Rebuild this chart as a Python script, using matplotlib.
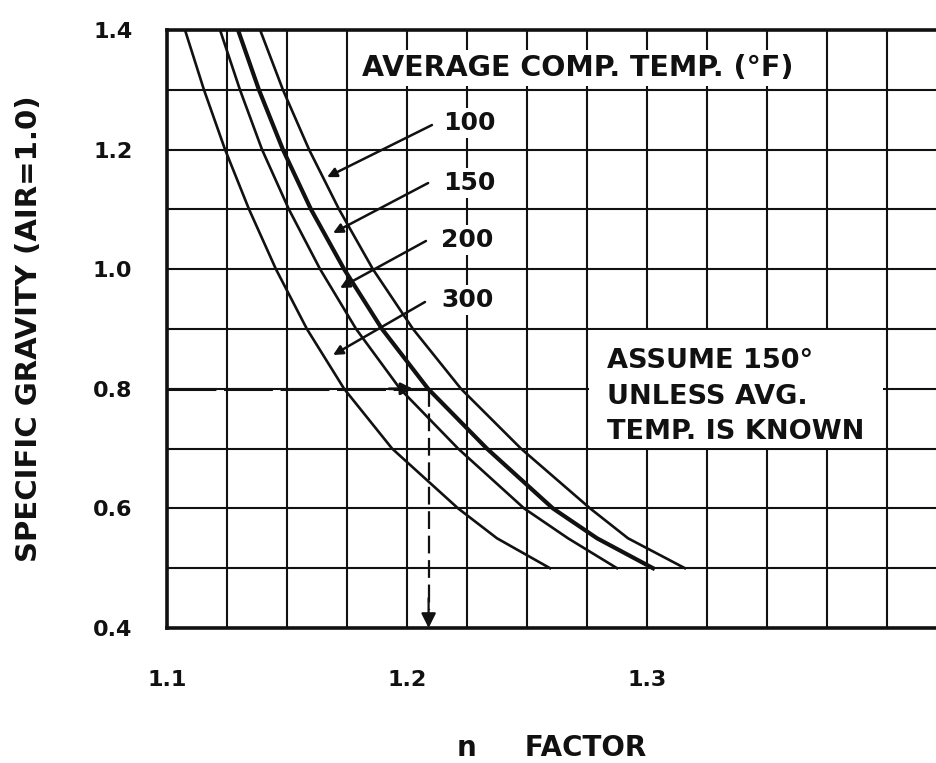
import numpy as np
import matplotlib
matplotlib.use("Agg")
import matplotlib.pyplot as plt
from matplotlib.patches import Rectangle

# ---------------- data ----------------
sg_levels = [1.4, 1.3, 1.2, 1.1, 1.0, 0.9, 0.8, 0.7, 0.6, 0.55, 0.5]
n_100 = [1.1388, 1.1483, 1.1592, 1.1717, 1.1858, 1.2025, 1.2225, 1.2475, 1.2763, 1.2921, 1.3158]
n_150 = [1.1296, 1.1383, 1.1483, 1.1600, 1.1738, 1.1896, 1.2088, 1.2333, 1.2608, 1.2792, 1.3025]
n_200 = [1.1221, 1.1304, 1.1396, 1.1508, 1.1638, 1.1788, 1.1971, 1.2213, 1.2488, 1.2671, 1.2875]
n_300 = [1.1075, 1.1154, 1.1242, 1.1342, 1.1454, 1.1583, 1.1738, 1.1938, 1.2213, 1.2375, 1.2596]

temp_labels = ["100", "150", "200", "300"]
label_x = [1.215, 1.215, 1.214, 1.2145]
label_y = [1.2445, 1.1441, 1.0488, 0.9485]
arrow_start_x = [1.2104, 1.2088, 1.2079, 1.2075]
arrow_start_y = [1.2411, 1.1441, 1.0472, 0.9452]
arrow_tip_x = [1.1667, 1.1692, 1.1721, 1.1692]
arrow_tip_y = [1.154, 1.0605, 0.9686, 0.8565]

x_ticks = [1.1, 1.2, 1.3]
x_tick_labels = ["1.1", "1.2", "1.3"]
y_ticks = [0.4, 0.6, 0.8, 1.0, 1.2, 1.4]
y_tick_labels = ["0.4", "0.6", "0.8", "1.0", "1.2", "1.4"]

example_sg = 0.8
example_n = 1.209
example_head_n = 1.2025

FONT = "DejaVu Sans"
plt.rcParams["font.family"] = [FONT]
INK = "#111111"

fig = plt.figure(figsize=(9.37, 7.63), dpi=100)
ax = fig.add_axes([167 / 937, 1 - 628 / 763, 1 - 167 / 937, (628 - 30) / 763])
ax.set_xlim(1.1, 1.1 + 770 / 2400)
ax.set_ylim(0.4, 1.4)

# grid
ax.set_xticks(x_ticks)
ax.set_xticklabels(x_tick_labels)
ax.set_xticks(np.arange(1.1, 1.42, 0.025), minor=True)
ax.set_yticks(y_ticks)
ax.set_yticklabels(y_tick_labels)
ax.set_yticks(np.arange(0.4, 1.41, 0.1), minor=True)
ax.set_axisbelow(True)
ax.grid(which="both", color=INK, lw=1.5)
ax.tick_params(which="both", length=0)
ax.tick_params(axis="y", pad=25, labelsize=16, labelcolor=INK)
ax.tick_params(axis="x", pad=30, labelsize=16, labelcolor=INK)
for lab in ax.get_xticklabels() + ax.get_yticklabels():
    lab.set_fontweight("bold")

for s in ["left", "top", "bottom"]:
    ax.spines[s].set_linewidth(2.6)
    ax.spines[s].set_color(INK)
ax.spines["right"].set_visible(False)

# curves
ax.plot(n_300, sg_levels, color=INK, lw=1.9, zorder=3, solid_joinstyle="round")
ax.plot(n_200, sg_levels, color=INK, lw=1.9, zorder=3, solid_joinstyle="round")
ax.plot(n_150, sg_levels, color=INK, lw=3.0, zorder=3, solid_joinstyle="round")
ax.plot(n_100, sg_levels, color=INK, lw=1.9, zorder=3, solid_joinstyle="round")

# temperature labels with arrows
for t, lx, ly, sx, sy, tx, ty in zip(temp_labels, label_x, label_y,
                                     arrow_start_x, arrow_start_y,
                                     arrow_tip_x, arrow_tip_y):
    ax.annotate("", xy=(tx, ty), xytext=(sx, sy),
                arrowprops=dict(arrowstyle="-|>", color=INK, lw=1.8,
                                mutation_scale=14, shrinkA=0, shrinkB=0),
                zorder=4)
    ax.text(lx, ly, t, ha="left", va="center", fontsize=18, fontweight="bold",
            color=INK, zorder=4,
            bbox=dict(facecolor="white", edgecolor="none", pad=2))

ax.text(1.18125, 1.3365, "AVERAGE COMP. TEMP. (°F)", ha="left", va="center",
        fontsize=20.5, fontweight="bold", color=INK, zorder=4,
        bbox=dict(facecolor="white", edgecolor="none", pad=3))

# assumption box
ax.add_patch(Rectangle((1.2757, 0.7015), 0.1228, 0.197, facecolor="white",
                       edgecolor="none", zorder=2))
ax.text(1.2833, 0.8465, "ASSUME 150°", ha="left", va="center", fontsize=19.5,
        fontweight="bold", color=INK, zorder=4)
ax.text(1.2833, 0.7863, "UNLESS AVG.", ha="left", va="center", fontsize=19.5,
        fontweight="bold", color=INK, zorder=4)
ax.text(1.2833, 0.7278, "TEMP. IS KNOWN", ha="left", va="center", fontsize=19.5,
        fontweight="bold", color=INK, zorder=4)

# example reading path
ax.plot([1.1, example_n], [example_sg, example_sg], color=INK, lw=2.2,
        ls=(0, (16, 2.5)), zorder=3)
ax.annotate("", xy=(example_head_n, example_sg), xytext=(example_head_n - 0.01, example_sg),
            arrowprops=dict(arrowstyle="-|>", color=INK, lw=2,
                            mutation_scale=18, shrinkA=0, shrinkB=0), zorder=4)
ax.plot([example_n, example_n], [example_sg, 0.43], color=INK, lw=1.6,
        ls=(0, (8, 3)), zorder=3)
ax.annotate("", xy=(example_n, 0.4), xytext=(example_n, 0.45),
            arrowprops=dict(arrowstyle="-|>", color=INK, lw=1.6,
                            mutation_scale=22, shrinkA=0, shrinkB=0), zorder=4)

ax.set_xlabel("n     FACTOR", fontsize=20, fontweight="bold", color=INK)
ax.xaxis.set_label_coords((552 - 167) / 770, (628 - 734) / 598)
ax.set_ylabel("SPECIFIC GRAVITY (AIR=1.0)", fontsize=21, fontweight="bold",
              color=INK)
ax.yaxis.set_label_coords((43 - 167) / 770, 0.5)

fig.savefig("out.png", dpi=100)
